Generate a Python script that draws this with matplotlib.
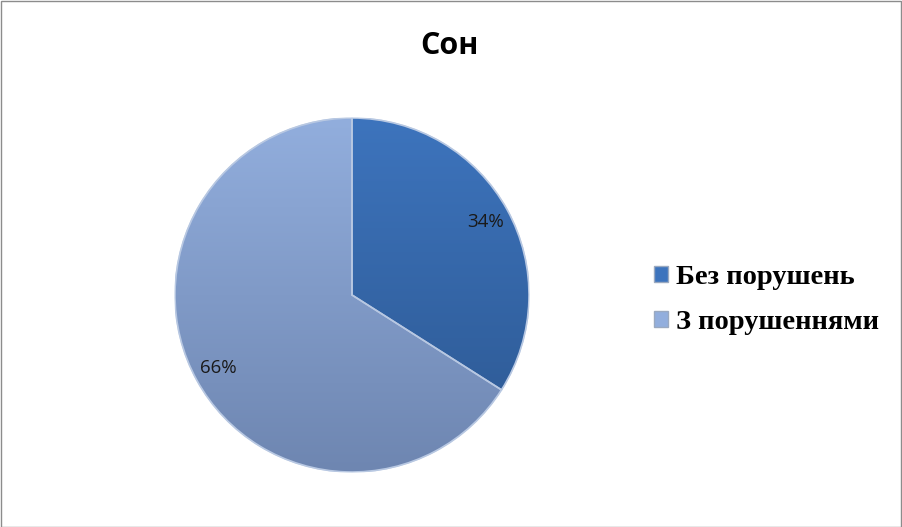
import matplotlib
matplotlib.use("Agg")
import matplotlib.pyplot as plt
import numpy as np
from matplotlib.patches import Rectangle, Wedge
from matplotlib.colors import LinearSegmentedColormap

title = "Сон"
categories = ["Без порушень", "З порушеннями"]
values = [34, 66]
labels_pct = ["34%", "66%"]

W, H = 902, 527
fig = plt.figure(figsize=(W / 100, H / 100), dpi=100)
fig.patch.set_facecolor("white")

# frame
fig.add_artist(Rectangle((0.5 / W, 0.5 / H), 1 - 1.5 / W, 1 - 1.5 / H, transform=fig.transFigure,
                         fill=False, edgecolor="#8c8c8c", linewidth=1.0))

cx, cy, r = 352, 295, 177
ax = fig.add_axes([(cx - r) / W, (H - cy - r) / H, 2 * r / W, 2 * r / H])

top_colors = ["#3d74bd", "#92aedd"]
bot_colors = ["#2c5790", "#6e86b1"]

wedges, texts, autotexts = ax.pie(values, startangle=90, counterclock=False, radius=1.0,
                                  colors=top_colors, autopct=lambda p: "",
                                  pctdistance=0.86,
                                  wedgeprops=dict(edgecolor="#c9d6ea", linewidth=1.0))
ax.set_aspect("equal")
ax.axis("off")

yy = np.linspace(1, 0, 256).reshape(-1, 1)
for w, tc, bc in zip(wedges, top_colors, bot_colors):
    cmap = LinearSegmentedColormap.from_list("g", [bc, tc])
    im = ax.imshow(yy, cmap=cmap, extent=(-1, 1, -1, 1), aspect="auto", zorder=w.get_zorder() + 0.1,
                   interpolation="bilinear")
    im.set_clip_path(w)
ax.set_xlim(-1, 1)
ax.set_ylim(-1, 1)
# outline over gradients
for w in wedges:
    w2 = Wedge(w.center, w.r, w.theta1, w.theta2, fill=False,
               edgecolor="#b8c8e2", linewidth=1.2, zorder=5)
    ax.add_patch(w2)

for at, lab in zip(autotexts, labels_pct):
    at.set_text(lab)
    at.set_fontfamily(["Open Sans", "DejaVu Sans"])
    at.set_fontsize(13.5)
    at.set_color("#1a1a1a")
    at.set_zorder(10)

fig.text(449 / W, 1 - 46 / H, title, ha="center", va="center", fontsize=22, fontweight="bold",
         family=["Open Sans", "DejaVu Sans"])

handles = [Rectangle((0, 0), 1, 1, facecolor=c, edgecolor="#9aa9c0") for c in top_colors]
leg = fig.legend(handles, categories, loc="center left", bbox_to_anchor=(628 / W, 1 - 300 / H),
                 frameon=False, prop=dict(family=["Liberation Serif", "DejaVu Serif"], weight="bold", size=20.5),
                 handlelength=0.5, handleheight=0.5, handletextpad=0.3, labelspacing=0.72)

fig.savefig("out.png", dpi=100, facecolor="white")
